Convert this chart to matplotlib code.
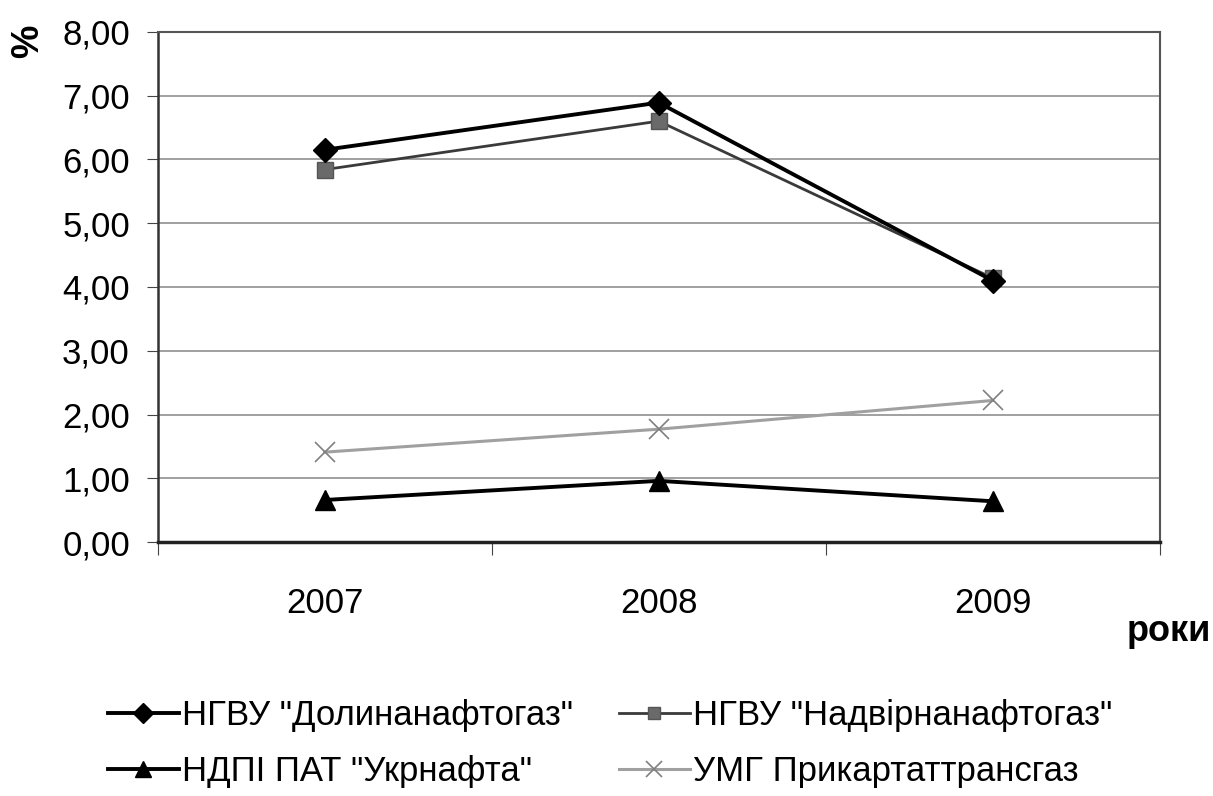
import matplotlib
matplotlib.use("Agg")
import matplotlib.pyplot as plt
from matplotlib.ticker import FuncFormatter

plt.rcParams['font.family'] = ['Liberation Sans', 'DejaVu Sans']

years = ["2007", "2008", "2009"]
dolyna = [6.15, 6.89, 4.10]
nadvirna = [5.84, 6.60, 4.14]
ukrnafta = [0.66, 0.96, 0.64]
umg = [1.41, 1.77, 2.22]

labels = [
    'НГВУ "Долинанафтогаз"',
    'НГВУ "Надвірнанафтогаз"',
    'НДПІ ПАТ "Укрнафта"',
    'УМГ Прикартаттрансгаз',
]

fig = plt.figure(figsize=(12.13, 7.96), dpi=100)
ax = fig.add_axes([0.130, 0.319, 0.826, 0.641])

x = [0, 1, 2]
h1, = ax.plot(x, dolyna, color="black", lw=2.8, marker="D", ms=12, zorder=5)
h2, = ax.plot(x, nadvirna, color="#3a3a3a", lw=2, marker="s", ms=11,
              mfc="#6a6a6a", mec="#555555", zorder=4)
h3, = ax.plot(x, ukrnafta, color="black", lw=2.8, marker="^", ms=14, zorder=5)
h4, = ax.plot(x, umg, color="#a0a0a0", lw=2.2, marker="x", ms=14, mew=1.2,
              mec="#808080", zorder=4)

ax.set_xlim(-0.5, 2.5)
ax.set_ylim(0, 8)
ax.set_yticks([0, 1, 2, 3, 4, 5, 6, 7, 8])
ax.yaxis.set_major_formatter(FuncFormatter(lambda v, p: f"{v:.2f}".replace(".", ",")))
ax.set_xticks([-0.5, 0.5, 1.5, 2.5])
ax.set_xticklabels([])
ax.set_xticks(x, minor=True)
ax.set_xticklabels(years, minor=True)
ax.tick_params(axis="x", which="minor", length=0, labelsize=25, pad=32)
ax.tick_params(axis="x", which="major", length=9, direction="out", color="#444444")
ax.tick_params(axis="y", labelsize=25, length=8, direction="out", pad=12, color="#444444")

ax.grid(axis="y", color="#909090", lw=1.2)
ax.set_axisbelow(True)
for side in ["top", "right"]:
    ax.spines[side].set_color("#555555")
    ax.spines[side].set_linewidth(1.5)
ax.spines["left"].set_color("#333333")
ax.spines["left"].set_linewidth(1.8)
ax.spines["bottom"].set_color("#222222")
ax.spines["bottom"].set_linewidth(2.5)

fig.text(0.023, 0.948, "%", rotation=90, fontsize=27, fontweight="bold",
         ha="center", va="center")
fig.text(0.998, 0.207, "роки", fontsize=26, fontweight="bold",
         ha="right", va="center")

# matplotlib fills legend columns first, so order handles to get rows
fig.legend([h1, h3, h2, h4], [labels[0], labels[2], labels[1], labels[3]],
           ncol=2, loc="center", bbox_to_anchor=(0.503, 0.066), frameon=False,
           fontsize=25, handlelength=2.05, handletextpad=0.1, columnspacing=1.3,
           labelspacing=0.65, markerscale=0.85)

fig.savefig("out.png", dpi=100)
